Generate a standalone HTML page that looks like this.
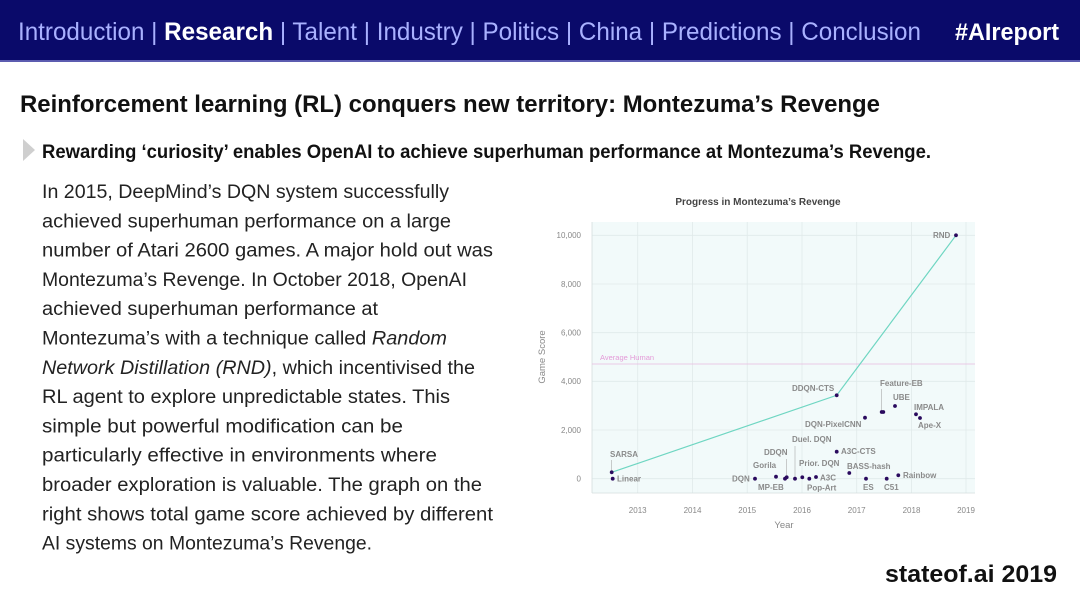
<!DOCTYPE html>
<html><head><meta charset="utf-8"><style>
html,body{margin:0;padding:0;background:#fff;width:1080px;height:608px;overflow:hidden}
svg{display:block}
text{font-family:"Liberation Sans",sans-serif}
</style></head><body>
<svg width="1080" height="608" viewBox="0 0 1080 608" xmlns="http://www.w3.org/2000/svg">
<rect x="0" y="0" width="1080" height="61" fill="#0a0a6a"/>
<rect x="0" y="60" width="1080" height="2" fill="#5c5cb0"/>
<text x="18" y="40" font-size="25" fill="#a9b1ff" textLength="903" lengthAdjust="spacingAndGlyphs">Introduction | <tspan font-weight="bold" fill="#fff">Research</tspan> | Talent | Industry | Politics | China | Predictions | Conclusion</text>
<text x="955" y="40" font-size="24" font-weight="bold" fill="#fff" textLength="104" lengthAdjust="spacingAndGlyphs">#AIreport</text>

<text x="20" y="112" font-size="24" font-weight="bold" fill="#111" textLength="860" lengthAdjust="spacingAndGlyphs">Reinforcement learning (RL) conquers new territory: Montezuma’s Revenge</text>
<polygon points="23,139 35,150 23,161" fill="#cfcfcf"/>
<text x="42" y="158" font-size="19" font-weight="bold" fill="#111" textLength="889" lengthAdjust="spacingAndGlyphs">Rewarding ‘curiosity’ enables OpenAI to achieve superhuman performance at Montezuma’s Revenge.</text>

<g font-size="19" fill="#222">
<text x="42" y="198" textLength="407" lengthAdjust="spacingAndGlyphs">In 2015, DeepMind’s DQN system successfully</text>
<text x="42" y="227.3" textLength="409" lengthAdjust="spacingAndGlyphs">achieved superhuman performance on a large</text>
<text x="42" y="256.6" textLength="451" lengthAdjust="spacingAndGlyphs">number of Atari 2600 games. A major hold out was</text>
<text x="42" y="285.9" textLength="425" lengthAdjust="spacingAndGlyphs">Montezuma’s Revenge. In October 2018, OpenAI</text>
<text x="42" y="315.2" textLength="336" lengthAdjust="spacingAndGlyphs">achieved superhuman performance at</text>
<text x="42" y="344.5" textLength="405" lengthAdjust="spacingAndGlyphs">Montezuma’s with a technique called <tspan font-style="italic">Random</tspan></text>
<text x="42" y="373.8" textLength="433" lengthAdjust="spacingAndGlyphs"><tspan font-style="italic">Network Distillation (RND)</tspan>, which incentivised the</text>
<text x="42" y="403.1" textLength="408" lengthAdjust="spacingAndGlyphs">RL agent to explore unpredictable states. This</text>
<text x="42" y="432.4" textLength="361" lengthAdjust="spacingAndGlyphs">simple but powerful modification can be</text>
<text x="42" y="461.7" textLength="395" lengthAdjust="spacingAndGlyphs">particularly effective in environments where</text>
<text x="42" y="491" textLength="440" lengthAdjust="spacingAndGlyphs">broader exploration is valuable. The graph on the</text>
<text x="42" y="520.3" textLength="451" lengthAdjust="spacingAndGlyphs">right shows total game score achieved by different</text>
<text x="42" y="549.6" textLength="330" lengthAdjust="spacingAndGlyphs">AI systems on Montezuma’s Revenge.</text>
</g>

<text x="885" y="582" font-size="24" font-weight="bold" fill="#111" textLength="172" lengthAdjust="spacingAndGlyphs">stateof.ai 2019</text>

<!-- chart -->
<text x="758" y="205" font-size="10" font-weight="bold" fill="#444" text-anchor="middle">Progress in Montezuma’s Revenge</text>
<rect x="592" y="222" width="383" height="271" fill="#f2fafa"/>
<g stroke="#e0eaea" stroke-width="0.8">
<line x1="637.7" y1="222" x2="637.7" y2="493"/><line x1="692.5" y1="222" x2="692.5" y2="493"/>
<line x1="747.2" y1="222" x2="747.2" y2="493"/><line x1="802" y1="222" x2="802" y2="493"/>
<line x1="856.7" y1="222" x2="856.7" y2="493"/><line x1="911.5" y1="222" x2="911.5" y2="493"/>
<line x1="966" y1="222" x2="966" y2="493"/>
<line x1="592" y1="235.3" x2="975" y2="235.3"/><line x1="592" y1="284" x2="975" y2="284"/>
<line x1="592" y1="332.7" x2="975" y2="332.7"/><line x1="592" y1="381.3" x2="975" y2="381.3"/>
<line x1="592" y1="430" x2="975" y2="430"/><line x1="592" y1="478.7" x2="975" y2="478.7"/>
</g>
<line x1="592" y1="222" x2="592" y2="493" stroke="#d5dede" stroke-width="0.8"/>
<line x1="592" y1="493" x2="975" y2="493" stroke="#d5dede" stroke-width="0.8"/>
<g font-size="8" fill="#888" text-anchor="end">
<text x="581" y="238">10,000</text><text x="581" y="287">8,000</text><text x="581" y="335.5">6,000</text>
<text x="581" y="384">4,000</text><text x="581" y="433">2,000</text><text x="581" y="481.5">0</text>
</g>
<g font-size="8" fill="#888" text-anchor="middle">
<text x="637.7" y="513">2013</text><text x="692.5" y="513">2014</text><text x="747.2" y="513">2015</text>
<text x="802" y="513">2016</text><text x="856.7" y="513">2017</text><text x="911.5" y="513">2018</text>
<text x="966" y="513">2019</text>
<text x="784" y="528" font-size="9.5">Year</text>
</g>
<text x="0" y="0" font-size="9.5" fill="#888" text-anchor="middle" transform="translate(545,357) rotate(-90)">Game Score</text>
<line x1="592" y1="364" x2="975" y2="364" stroke="#e8b8e0" stroke-width="0.8"/>
<text x="600" y="360" font-size="7.5" fill="#e49ad8">Average Human</text>
<polyline points="611.7,472.3 836.7,395.3 956,235.3" fill="none" stroke="#6fd6c2" stroke-width="1.2"/>
<g stroke="#aaa" stroke-width="0.6">
<line x1="611.7" y1="460" x2="611.7" y2="472"/>
<line x1="881.7" y1="389" x2="881.7" y2="412"/>
<line x1="786.5" y1="459" x2="786.5" y2="477"/>
<line x1="795" y1="446" x2="795" y2="478"/>
</g>
<g fill="#2a0a5e">
<circle cx="611.7" cy="472.3" r="1.9"/><circle cx="612.7" cy="478.7" r="1.9"/>
<circle cx="755" cy="478.7" r="1.9"/><circle cx="776" cy="476.7" r="1.9"/>
<circle cx="785" cy="478.7" r="1.9"/><circle cx="786.7" cy="477.3" r="1.9"/>
<circle cx="795" cy="478.7" r="1.9"/><circle cx="802.3" cy="477.3" r="1.9"/>
<circle cx="809.3" cy="478.7" r="1.9"/><circle cx="816" cy="477" r="1.9"/>
<circle cx="836.7" cy="395.3" r="1.9"/><circle cx="836.7" cy="451.7" r="1.9"/>
<circle cx="849.3" cy="473" r="1.9"/><circle cx="865" cy="417.7" r="1.9"/>
<circle cx="866" cy="478.7" r="1.9"/><circle cx="881.7" cy="412" r="1.9"/>
<circle cx="883.3" cy="412" r="1.9"/><circle cx="895" cy="406" r="1.9"/>
<circle cx="886.7" cy="478.7" r="1.9"/><circle cx="898.3" cy="475.3" r="1.9"/>
<circle cx="916" cy="414.3" r="1.9"/><circle cx="920" cy="418" r="1.9"/>
<circle cx="956" cy="235.3" r="1.9"/>
</g>
<g font-size="8" font-weight="bold" fill="#8a8a8a">
<text x="610" y="457">SARSA</text>
<text x="617" y="481.5">Linear</text>
<text x="732" y="481.5">DQN</text>
<text x="753" y="468">Gorila</text>
<text x="758" y="490">MP-EB</text>
<text x="764" y="455">DDQN</text>
<text x="792" y="442">Duel. DQN</text>
<text x="799" y="466">Prior. DQN</text>
<text x="820" y="480.5">A3C</text>
<text x="807" y="490.5">Pop-Art</text>
<text x="792" y="391">DDQN-CTS</text>
<text x="841" y="454">A3C-CTS</text>
<text x="847" y="469">BASS-hash</text>
<text x="805" y="427">DQN-PixelCNN</text>
<text x="863" y="490">ES</text>
<text x="880" y="386">Feature-EB</text>
<text x="893" y="400">UBE</text>
<text x="884" y="490">C51</text>
<text x="903" y="478">Rainbow</text>
<text x="914" y="410">IMPALA</text>
<text x="918" y="428">Ape-X</text>
<text x="933" y="238">RND</text>
</g>
</svg>
</body></html>
